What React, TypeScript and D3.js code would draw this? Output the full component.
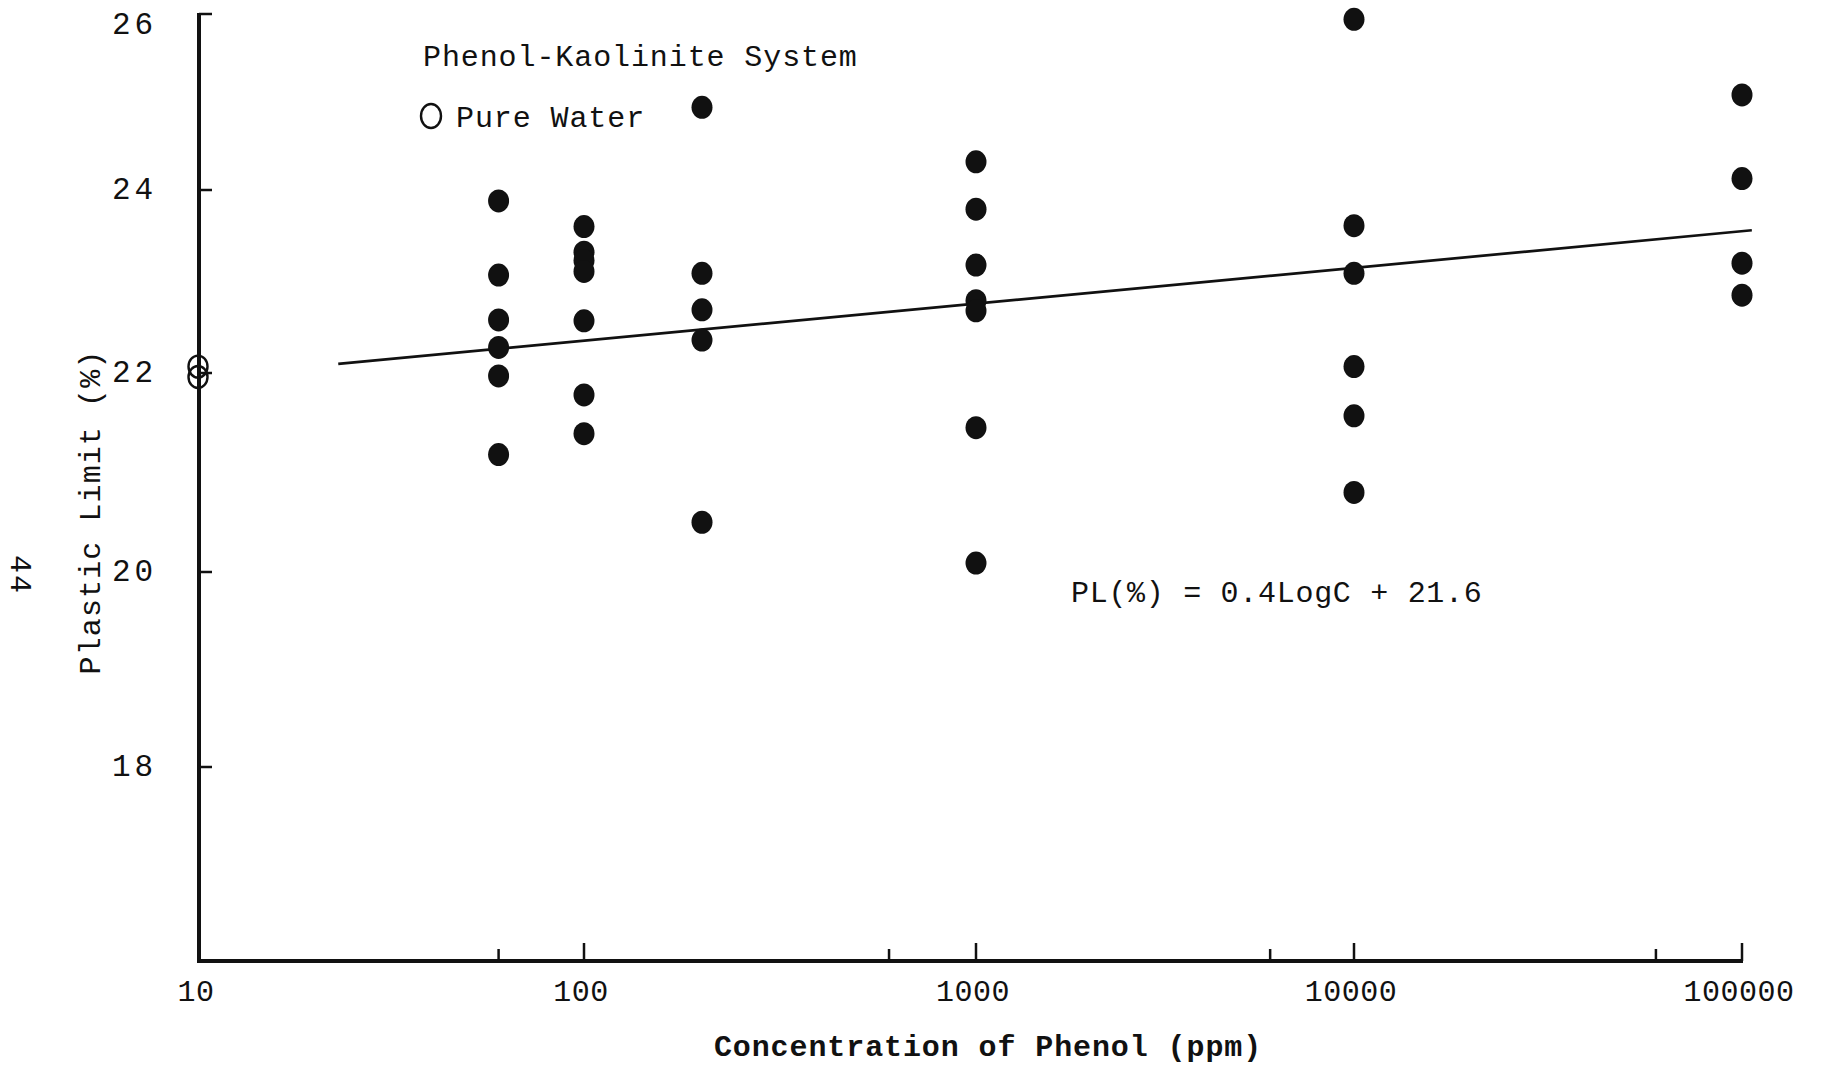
import React from 'react';
import * as d3 from 'd3';

// ---- data ----
const concentrations = [60, 100, 200, 1000, 10000, 100000];
const pl60 = [23.88, 23.07, 22.58, 22.28, 21.97, 21.18];
const pl100 = [23.6, 23.32, 23.23, 23.11, 22.57, 21.78, 21.39];
const pl200 = [24.94, 23.09, 22.69, 22.36, 20.5];
const pl1000 = [24.32, 23.79, 23.18, 22.79, 22.68, 21.45, 20.09];
const pl10000 = [25.94, 23.61, 23.09, 22.07, 21.57, 20.8];
const pl100000 = [25.08, 24.13, 23.2, 22.85];
const plSeries = [pl60, pl100, pl200, pl1000, pl10000, pl100000];

const pureWaterConc = 10;
const pureWaterPL = [22.07, 21.96];

const fitConc = [23, 106000];
const fitPL = [22.1, 23.56];

const yTickValues = [18, 20, 22, 24, 26];
const xTickValues = [10, 100, 1000, 10000, 100000];
const xTickLabels = ['10', '100', '1000', '10000', '100000'];
const xMinorTicks = [60, 600, 6000, 60000];

const titleText = 'Phenol-Kaolinite System';
const legendText = 'Pure Water';
const equationText = 'PL(%) = 0.4LogC + 21.6';
const xTitle = 'Concentration of Phenol (ppm)';
const yTitle = 'Plastic Limit (%)';
const pageNumber = '44';

const W = 1823;
const H = 1070;
const FONT = '"Liberation Mono", "DejaVu Sans Mono", monospace';
const INK = '#111';

export default function App() {
  // hand-drawn axes: calibrated piecewise to the printed ticks
  const x = d3
    .scaleLog()
    .domain([10, 100, 1000, 10000, 100000])
    .range([199, 584, 976, 1354, 1742]);
  const y = d3
    .scaleLinear()
    .domain([16, 18, 20, 22, 24, 26])
    .range([961, 767, 572, 373, 190, 14]);

  const points: { c: number; v: number }[] = [];
  concentrations.forEach((c, i) => plSeries[i].forEach((v) => points.push({ c, v })));

  const fitLine = d3
    .line<number>()
    .x((_, i) => x(fitConc[i]))
    .y((d) => y(d))(fitPL);

  const x0 = x(10);
  const x1 = x(100000);
  const yBottom = y(16);
  const yTop = y(26);

  return (
    <div style={{ position: 'absolute', left: 0, top: 0 }}>
      <svg width={W} height={H} viewBox={`0 0 ${W} ${H}`} style={{ display: 'block', background: '#fff' }}>
        <rect x={0} y={0} width={W} height={H} fill="#fff" />

        {/* axes */}
        <line x1={x0} y1={yTop - 1} x2={x0} y2={yBottom + 2} stroke={INK} strokeWidth={4} />
        <line x1={x0 - 2} y1={yBottom} x2={x1 + 1} y2={yBottom} stroke={INK} strokeWidth={4} />

        {/* y ticks */}
        {yTickValues.map((t) => (
          <g key={'yt' + t}>
            <line x1={x0} x2={x0 + 13} y1={y(t)} y2={y(t)} stroke={INK} strokeWidth={2.5} />
            <text
              x={112}
              y={Math.max(y(t), 25)}
              dominantBaseline="central"
              fontFamily={FONT}
              fontSize={31}
              letterSpacing={4}
              fill={INK}
            >
              {String(t)}
            </text>
          </g>
        ))}

        {/* x ticks */}
        {xTickValues.map((t, i) => (
          <g key={'xt' + t}>
            {i > 0 && (
              <line x1={x(t)} x2={x(t)} y1={yBottom} y2={yBottom - 18} stroke={INK} strokeWidth={2.5} />
            )}
            <text
              x={x(t) - 3}
              y={1001}
              textAnchor="middle"
              fontFamily={FONT}
              fontSize={30}
              letterSpacing={0.5}
              fill={INK}
            >
              {xTickLabels[i]}
            </text>
          </g>
        ))}
        {xMinorTicks.map((t) => (
          <line key={'xm' + t} x1={x(t)} x2={x(t)} y1={yBottom} y2={yBottom - 12} stroke={INK} strokeWidth={2.5} />
        ))}

        {/* regression line */}
        <path d={fitLine || ''} fill="none" stroke={INK} strokeWidth={2.7} />

        {/* data points */}
        {points.map((p, i) => (
          <ellipse key={'p' + i} cx={x(p.c)} cy={y(p.v)} rx={10.5} ry={11.5} fill={INK} />
        ))}

        {/* pure water */}
        {pureWaterPL.map((v, i) => (
          <ellipse
            key={'pw' + i}
            cx={x(pureWaterConc) - 1}
            cy={y(v)}
            rx={9.5}
            ry={11}
            fill="none"
            stroke={INK}
            strokeWidth={2.4}
          />
        ))}

        {/* title & legend */}
        <text x={423} y={66} fontFamily={FONT} fontSize={30} letterSpacing={0.9} fill={INK}>
          {titleText}
        </text>
        <ellipse cx={431} cy={116} rx={10} ry={12} fill="none" stroke={INK} strokeWidth={2.4} />
        <text x={456} y={127} fontFamily={FONT} fontSize={30} letterSpacing={0.9} fill={INK}>
          {legendText}
        </text>

        {/* equation */}
        <text x={1071} y={602} fontFamily={FONT} fontSize={30} letterSpacing={0.7} fill={INK}>
          {equationText}
        </text>

        {/* axis titles */}
        <text
          x={988}
          y={1056}
          textAnchor="middle"
          fontFamily={FONT}
          fontSize={30}
          fontWeight="bold"
          letterSpacing={0.9}
          fill={INK}
        >
          {xTitle}
        </text>
        <text
          transform="translate(100,512) rotate(-90)"
          textAnchor="middle"
          fontFamily={FONT}
          fontSize={30}
          letterSpacing={1.1}
          fill={INK}
        >
          {yTitle}
        </text>
        <text
          transform="translate(19,575) rotate(90)"
          textAnchor="middle"
          dominantBaseline="central"
          fontFamily={FONT}
          fontSize={30}
          letterSpacing={2}
          fill={INK}
        >
          {pageNumber}
        </text>
      </svg>
    </div>
  );
}
